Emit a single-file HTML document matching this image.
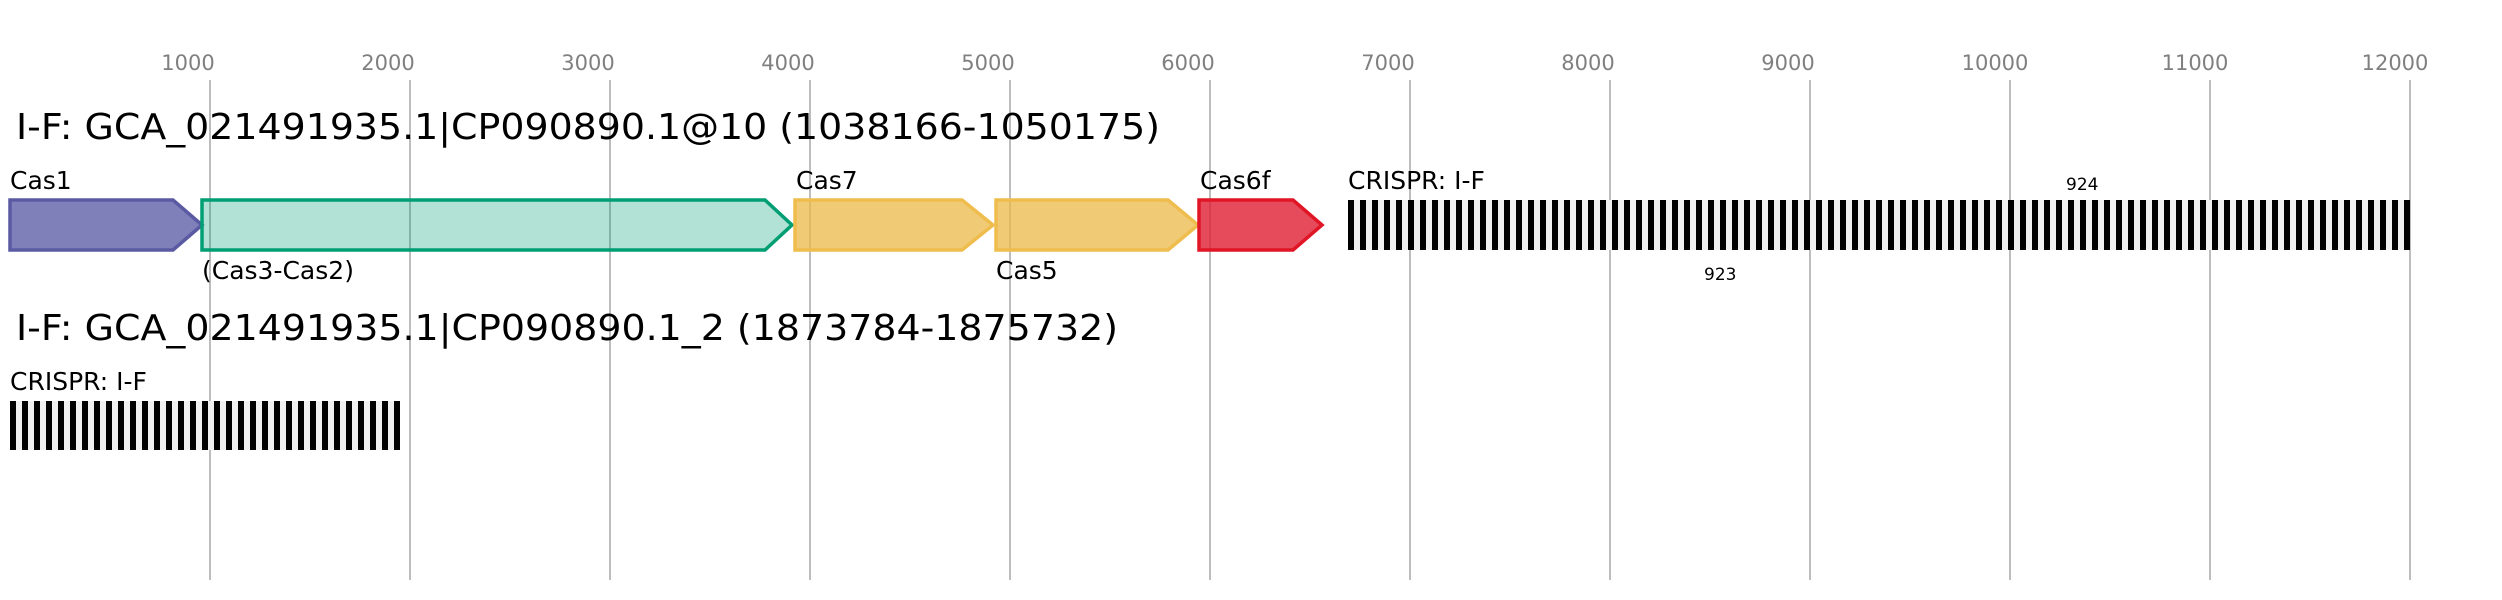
<!DOCTYPE html>
<html><head><meta charset="utf-8"><style>body{margin:0;background:#fff}svg{display:block}</style></head><body>
<svg width="2502" height="600" xmlns="http://www.w3.org/2000/svg" font-family="DejaVu Sans, sans-serif">
<g stroke="#bdbdbd" stroke-width="2">
<line x1="210" y1="80" x2="210" y2="580"/><line x1="410" y1="80" x2="410" y2="580"/><line x1="610" y1="80" x2="610" y2="580"/><line x1="810" y1="80" x2="810" y2="580"/><line x1="1010" y1="80" x2="1010" y2="580"/><line x1="1210" y1="80" x2="1210" y2="580"/><line x1="1410" y1="80" x2="1410" y2="580"/><line x1="1610" y1="80" x2="1610" y2="580"/><line x1="1810" y1="80" x2="1810" y2="580"/><line x1="2010" y1="80" x2="2010" y2="580"/><line x1="2210" y1="80" x2="2210" y2="580"/><line x1="2410" y1="80" x2="2410" y2="580"/>
</g>
<g fill="#808080" font-size="21" text-anchor="middle">
<text x="188" y="70">1000</text><text x="388" y="70">2000</text><text x="588" y="70">3000</text><text x="788" y="70">4000</text><text x="988" y="70">5000</text><text x="1188" y="70">6000</text><text x="1388" y="70">7000</text><text x="1588" y="70">8000</text><text x="1788" y="70">9000</text><text x="1995" y="70">10000</text><text x="2195" y="70">11000</text><text x="2395" y="70">12000</text>
</g>
<text x="16" y="139" font-size="36" textLength="1144" lengthAdjust="spacingAndGlyphs">I-F: GCA_021491935.1|CP090890.1@10 (1038166-1050175)</text>
<text x="16" y="340" font-size="36" textLength="1102" lengthAdjust="spacingAndGlyphs">I-F: GCA_021491935.1|CP090890.1_2 (1873784-1875732)</text>
<g stroke-width="3.5">
<polygon points="10,200 173,200 202,225 173,250 10,250" fill="rgba(84,86,163,0.75)" stroke="#5a5aa3"/>
<polygon points="202,200 765,200 792,225 765,250 202,250" fill="rgba(0,160,120,0.3)" stroke="#009e73"/>
<polygon points="795,200 962,200 993,225 962,250 795,250" fill="rgba(236,184,72,0.75)" stroke="#efbd4d"/>
<polygon points="996,200 1168,200 1198,225 1168,250 996,250" fill="rgba(236,184,72,0.75)" stroke="#efbd4d"/>
<polygon points="1199,200 1293,200 1322,225 1293,250 1199,250" fill="rgba(224,30,50,0.8)" stroke="#e01525"/>
</g>
<g font-size="25">
<text x="10" y="189">Cas1</text><text x="202" y="279">(Cas3-Cas2)</text><text x="796" y="189">Cas7</text><text x="996" y="279">Cas5</text><text x="1200" y="189">Cas6f</text><text x="1348" y="189">CRISPR: I-F</text><text x="10" y="390">CRISPR: I-F</text>
</g>
<g font-size="17"><text x="2066" y="190">924</text><text x="1704" y="280">923</text></g>
<rect x="1348" y="200" width="1062" height="50" fill="#f0f0f0"/>
<rect x="10" y="401" width="390" height="49" fill="#f0f0f0"/>
<defs>
<pattern id="p1" x="1348" y="0" width="12" height="600" patternUnits="userSpaceOnUse"><rect x="0" y="0" width="6" height="600" fill="#000"/></pattern>
<pattern id="p2" x="10" y="0" width="12" height="600" patternUnits="userSpaceOnUse"><rect x="0" y="0" width="6" height="600" fill="#000"/></pattern>
</defs>
<rect x="1348" y="200" width="1062" height="50" fill="url(#p1)"/>
<rect x="10" y="401" width="390" height="49" fill="url(#p2)"/>
</svg>
</body></html>
